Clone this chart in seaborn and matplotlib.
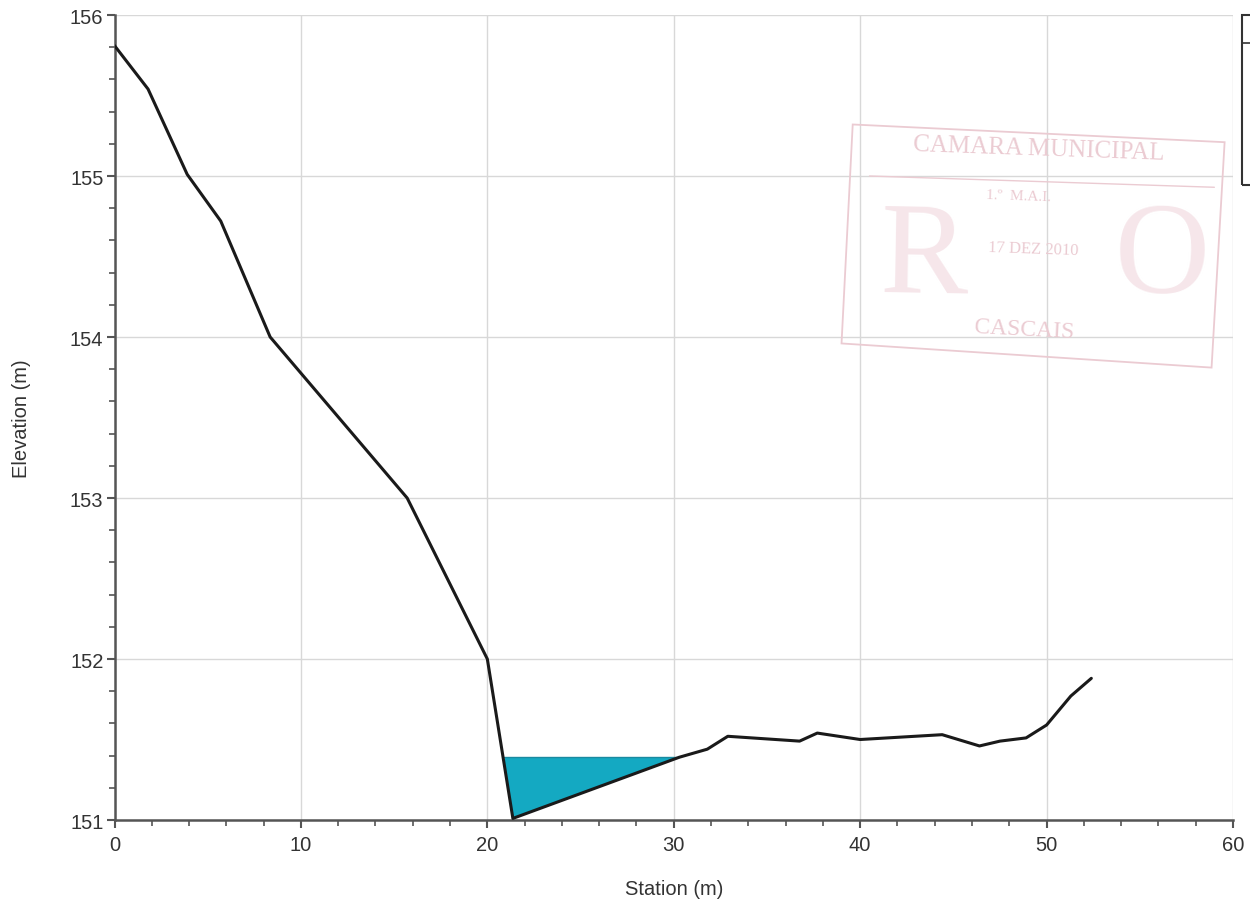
import numpy as np
import pandas as pd
import matplotlib
matplotlib.use("Agg")
import matplotlib.pyplot as plt
import seaborn as sns
from matplotlib.ticker import MultipleLocator
from matplotlib.patches import Rectangle, Polygon
from matplotlib.lines import Line2D

# Ground profile
station = [0.0, 1.8, 3.9, 5.7, 8.35, 15.7, 20.0, 21.37, 30.3, 31.8, 32.9, 36.75,
           37.7, 40.0, 44.4, 46.4, 47.5, 48.9, 50.0, 51.3, 52.4]
elevation = [155.81, 155.54, 155.01, 154.72, 154.0, 153.0, 152.0, 151.01, 151.39,
             151.44, 151.52, 151.49, 151.54, 151.50, 151.53, 151.46, 151.49, 151.51,
             151.59, 151.77, 151.88]

# Water surface
ws_elev = 151.39
ws_left, ws_right = 20.9, 30.3

x_ticks = [0, 10, 20, 30, 40, 50, 60]
y_ticks = [151, 152, 153, 154, 155, 156]

sns.set_theme(style="white")
plt.rcParams['font.family'] = ['Liberation Sans', 'DejaVu Sans']

fig = plt.figure(figsize=(12.5, 9.04), dpi=100)
ax = fig.add_axes([0.0916, 0.0918, 0.8948, 0.8905])

df = pd.DataFrame({"Station": station, "Elevation": elevation})

# water fill between ws and ground
st = np.array(station)
el = np.array(elevation)
xs = np.linspace(ws_left, ws_right, 400)
gs = np.interp(xs, st, el)
ax.fill_between(xs, gs, ws_elev, where=gs <= ws_elev, color="#14a9c2", lw=0, zorder=2)
ax.plot([ws_left, ws_right], [ws_elev, ws_elev], color="#1a8aa0", lw=1.0, zorder=2)

sns.lineplot(data=df, x="Station", y="Elevation", ax=ax, color="#1a1a1a", lw=2.2,
             sort=False, zorder=3)

ax.set_xlim(0, 60)
ax.set_ylim(151, 156)
ax.set_xticks(x_ticks)
ax.set_yticks(y_ticks)
ax.xaxis.set_minor_locator(MultipleLocator(2))
ax.yaxis.set_minor_locator(MultipleLocator(0.2))
ax.grid(True, which="major", color="#d8d8d8", lw=1.0)
ax.set_axisbelow(True)
for s in ["top", "right"]:
    ax.spines[s].set_visible(False)
for s in ["left", "bottom"]:
    ax.spines[s].set_color("#555555")
    ax.spines[s].set_linewidth(1.8)
ax.tick_params(which="major", direction="out", length=6, width=1.5, color="#555555",
               labelsize=14.5, labelcolor="#333333", left=True, bottom=True)
ax.tick_params(axis="x", which="major", pad=5)
ax.tick_params(axis="y", which="major", pad=2)
ax.tick_params(which="minor", direction="out", length=4, width=1.2, color="#555555",
               left=True, bottom=True)
ax.set_xlabel("Station (m)", fontsize=14.5, color="#333333", labelpad=18)
ax.set_ylabel("Elevation (m)", fontsize=14.5, color="#333333", labelpad=28)

# faint stamp
stamp_col = "#ebcbd2"
big_col = "#f6e6ea"
ax.add_patch(Polygon([(39.6, 155.32), (59.55, 155.21), (58.85, 153.81), (39.0, 153.96)],
                     closed=True, fill=False, edgecolor=stamp_col, lw=1.3, zorder=1))
ax.plot([40.5, 59.0], [155.0, 154.93], color=stamp_col, lw=1.0, zorder=1)
ax.text(41.0, 154.48, "R", fontsize=95, color=big_col, family="Liberation Serif",
        ha="left", va="center", rotation=-1, zorder=0.5)
ax.text(56.2, 154.48, "O", fontsize=95, color=big_col, family="Liberation Serif",
        ha="center", va="center", rotation=-1, zorder=0.5)
ax.text(49.6, 155.17, "CAMARA MUNICIPAL", fontsize=18, color=stamp_col,
        family="Liberation Serif", ha="center", va="center", rotation=-2, zorder=1)
ax.text(48.5, 154.88, "1.º  M.A.I.", fontsize=11, color=stamp_col,
        family="Liberation Serif", ha="center", va="center", rotation=-2, zorder=1)
ax.text(49.3, 154.55, "17 DEZ 2010", fontsize=12, color=stamp_col,
        family="Liberation Serif", ha="center", va="center", rotation=-2, zorder=1)
ax.text(48.8, 154.05, "CASCAIS", fontsize=17, color=stamp_col,
        family="Liberation Serif", ha="center", va="center", rotation=-3, zorder=1)

# partially visible legend box at right edge
fig.add_artist(Rectangle((1242/1250, 1-186/904), 0.05, 170/904, transform=fig.transFigure,
                         fill=False, edgecolor="#333333", lw=1.5))
fig.add_artist(Line2D([1242/1250, 1.0], [1-44/904, 1-44/904], transform=fig.transFigure,
                      color="#333333", lw=1.2))

fig.savefig("out.png", dpi=100, facecolor="white")
